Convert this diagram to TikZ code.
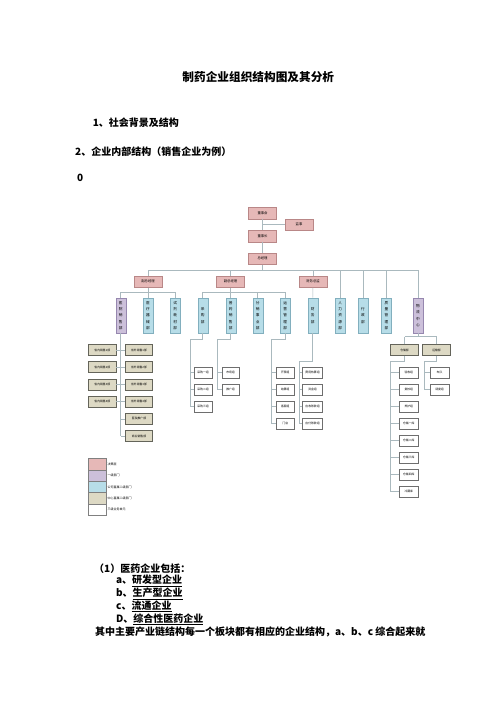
\documentclass[tikz,border=0pt]{standalone}
\usepackage{fontspec}
\setmainfont{Noto Sans CJK SC}
\definecolor{pinkf}{RGB}{230,184,183}
\definecolor{pinkd}{RGB}{185,135,135}
\definecolor{purpf}{RGB}{204,192,218}
\definecolor{purpd}{RGB}{150,135,175}
\definecolor{bluef}{RGB}{183,221,232}
\definecolor{blued}{RGB}{130,175,190}
\definecolor{tanf}{RGB}{221,217,196}
\definecolor{tand}{RGB}{100,100,90}
\definecolor{linec}{RGB}{170,185,190}
\definecolor{leafd}{RGB}{110,110,110}
\begin{document}
\begin{tikzpicture}[x=1.2pt,y=-1.2pt,
	conn/.style={draw=linec,line width=0.6pt},
	lead/.style={draw=pinkd,fill=pinkf,minimum width=33.5pt,minimum height=14pt,inner sep=0pt,font=\fontsize{4}{5}\selectfont},
	dept/.style={draw=blued,fill=bluef,minimum width=12pt,minimum height=42.6pt,inner sep=0pt,align=center,font=\fontsize{4.4}{7.6}\selectfont},
	deptp/.style={dept,draw=purpd,fill=purpf},
	sub/.style={draw=tand,fill=tanf,line width=0.7pt,minimum width=33pt,minimum height=13pt,inner sep=0pt,font=\fontsize{3.4}{4}\selectfont},
	leaf/.style={draw=leafd,fill=white,line width=0.5pt,minimum width=21pt,minimum height=13pt,inner sep=0pt,font=\fontsize{3.4}{4}\selectfont},
	key/.style={draw=gray,line width=0.8pt,minimum width=22pt,minimum height=13.7pt,inner sep=0pt},
	keytext/.style={anchor=west,inner sep=0.5pt,font=\fontsize{3.6}{4}\selectfont},
	txt/.style={anchor=west,inner sep=0pt,font=\fontsize{12}{14}\selectfont\bfseries}]
	\useasboundingbox (0,0) rectangle (496,702);

	\node[font=\fontsize{14}{16}\selectfont\bfseries] (title) at (258.3,77.5) {制药企业组织结构图及其分析};
	\node[txt] (sec1) at (92.7,122.5) {1、社会背景及结构};
	\node[txt] (sec2) at (75,152) {2、企业内部结构（销售企业为例）};
	\node[txt] (zero) at (77,178) {0};

	% top levels
	\node[lead] (board) at (262.5,213) {董事会};
	\node[lead] (sup) at (299,224.5) {监事};
	\node[lead] (chair) at (262.5,236) {董事长};
	\node[lead] (gm) at (262.5,258.5) {总经理};
	\node[lead] (vp1) at (148,281.5) {副总经理};
	\node[lead] (vp2) at (230.5,281.5) {副总经理};
	\node[lead] (cfo) at (313,281.5) {财务总监};

	\node[deptp] (hosp) at (120.7,315.5) {医\\院\\销\\售\\部};
	\node[dept] (device) at (148,315.5) {医\\疗\\器\\械\\部};
	\node[dept] (reag) at (175.3,315.5) {试\\剂\\耗\\材\\部};
	\node[dept] (purch) at (202.7,315.5) {采\\购\\部};
	\node[dept] (drug) at (230.7,315.5) {普\\药\\销\\售\\部};
	\node[dept] (dist) at (257.7,315.5) {分\\销\\事\\业\\部};
	\node[dept] (ops) at (285.3,315.5) {运\\营\\管\\理\\部};
	\node[dept] (fin) at (312.7,315.5) {财\\务\\部};
	\node[dept] (hr) at (340.3,315.5) {人\\力\\资\\源\\部};
	\node[dept] (adm) at (363,315.5) {行\\政\\部};
	\node[dept] (qa) at (386.5,315.5) {质\\量\\管\\理\\部};
	\node[deptp] (logi) at (418,315.5) {物\\流\\中\\心};

	\draw[conn] (board) -- (chair);
	\draw[conn] (sup.west) -- (sup.west -| board);
	\draw[conn] (chair) -- (gm);
	\coordinate (bus) at (0,270);
	\draw[conn] (gm) -- (gm |- bus);
	\draw[conn] (vp1 |- bus) -- (logi |- bus);
	\foreach \n in {vp1,vp2,cfo,hr,adm,qa,logi}
		\draw[conn] (\n) -- (\n |- bus);
	\coordinate (busa) at (0,292.3);
	\draw[conn] (vp1) -- (vp1 |- busa);
	\draw[conn] (vp2) -- (vp2 |- busa);
	\draw[conn] (hosp |- busa) -- (reag |- busa);
	\draw[conn] (purch |- busa) -- (ops |- busa);
	\foreach \n in {hosp,device,reag,purch,drug,dist,ops}
		\draw[conn] (\n) -- (\n |- busa);
	\draw[conn] (cfo) -- (fin);

	% hospital sales
	\foreach \a/\b [count=\i] in {省内销售1部/省外销售1部,省内销售2部/省外销售2部,省内销售3部/省外销售3部,省内销售4部/省外销售4部}
	{
		\node[sub] (ls\i) at (102.3,{350+(\i-1)*17.2}) {\a};
		\node[sub] (rs\i) at (139,{350+(\i-1)*17.2}) {\b};
		\draw[conn] (ls\i) -- (rs\i);
	}
	\node[sub] (rs5) at (139,418.8) {医院推广部};
	\node[sub] (rs6) at (139,436) {商业销售部};
	\draw[conn] (hosp) -- (hosp |- rs6);
	\foreach \n in {rs5,rs6}
		\draw[conn] (\n.west) -- (\n.west -| hosp);

	% purchase, drug, ops
	\foreach \t [count=\i] in {采购一组,采购二组,采购三组}
		\node[leaf] (pu\i) at (203,{372.7+(\i-1)*17}) {\t};
	\coordinate (pua) at (190,339);
	\draw[conn] (purch.south) |- (pua) |- (pu3.west);
	\foreach \n in {pu1,pu2}
		\draw[conn] (\n.west) -- (\n.west -| pua);

	\foreach \t [count=\i] in {市场组,推广组}
		\node[leaf] (dr\i) at (230.5,{372.7+(\i-1)*17}) {\t};
	\coordinate (dra) at (217.3,339);
	\draw[conn] (drug.south) |- (dra) |- (dr2.west);
	\draw[conn] (dr1.west) -- (dr1.west -| dra);

	\foreach \t [count=\i] in {开票组,结算组,客服组,门店}
		\node[leaf] (op\i) at (285.3,{372.7+(\i-1)*17}) {\t};
	\coordinate (opa) at (271.7,339);
	\draw[conn] (ops.south) |- (opa) |- (op4.west);
	\foreach \n in {op1,op2,op3}
		\draw[conn] (\n.west) -- (\n.west -| opa);

	% finance
	\foreach \t [count=\i] in {费用核算组,资金组,应收账款组,应付账款组}
		\node[leaf,minimum width=24pt] (fi\i) at (312.5,{372.7+(\i-1)*17}) {\t};
	\coordinate (fia) at (299.3,361);
	\draw[conn] (fin.south) |- (fia) |- (fi4.west);
	\foreach \n in {fi1,fi2,fi3}
		\draw[conn] (\n.west) -- (\n.west -| fia);

	% logistics
	\node[sub] (wh) at (404.5,350) {仓储部};
	\node[sub] (tr) at (436.5,350) {运输部};
	\coordinate (lga) at (0,336.7);
	\draw[conn] (logi) -- (logi |- lga);
	\draw[conn] (wh |- lga) -- (tr |- lga);
	\draw[conn] (wh) -- (wh |- lga);
	\draw[conn] (tr) -- (tr |- lga);
	\foreach \t [count=\i] in {验收组,复核组,养护组,仓储一库,仓储二库,仓储三库,仓储四库,冷藏库}
		\node[leaf,minimum width=22.8pt] (wh\i) at (408.8,{372.7+(\i-1)*17}) {\t};
	\coordinate (wha) at (390.7,361);
	\draw[conn] (wh.south) |- (wha) |- (wh8.west);
	\foreach \n in {wh1,wh2,wh3,wh4,wh5,wh6,wh7}
		\draw[conn] (\n.west) -- (\n.west -| wha);
	\foreach \t [count=\i] in {车队,调度组}
		\node[leaf,minimum width=22.8pt] (tr\i) at (439.5,{372.7+(\i-1)*17}) {\t};
	\coordinate (tra) at (424,361);
	\draw[conn] (tr.south) |- (tra) |- (tr2.west);
	\draw[conn] (tr1.west) -- (tr1.west -| tra);

	% key
	\foreach \c/\t [count=\i] in {pinkf/决策层,purpf/一级部门,bluef/公司直属二级部门,tanf/中心直属二级部门,white/三级业务单元}
	{
		\node[key,fill=\c] (key\i) at (97.5,{464.2+(\i-1)*11.4}) {};
		\node[keytext] (kt\i) at (key\i.east) {\t};
	}

	\node[txt] (p1) at (94,568.3) {（1）医药企业包括：};
	\node[txt] (pa) at (116,580.7) {a、\underline{研发型企业}};
	\node[txt] (pb) at (116,593.7) {b、\underline{生产型企业}};
	\node[txt] (pc) at (116,606.5) {c、\underline{流通企业}};
	\node[txt] (pd) at (116,619.5) {D、\underline{综合性医药企业}};
	\node[txt] (pe) at (95,632.3) {其中主要产业链结构每一个板块都有相应的企业结构，a、b、c 综合起来就};
\end{tikzpicture}
\end{document}
